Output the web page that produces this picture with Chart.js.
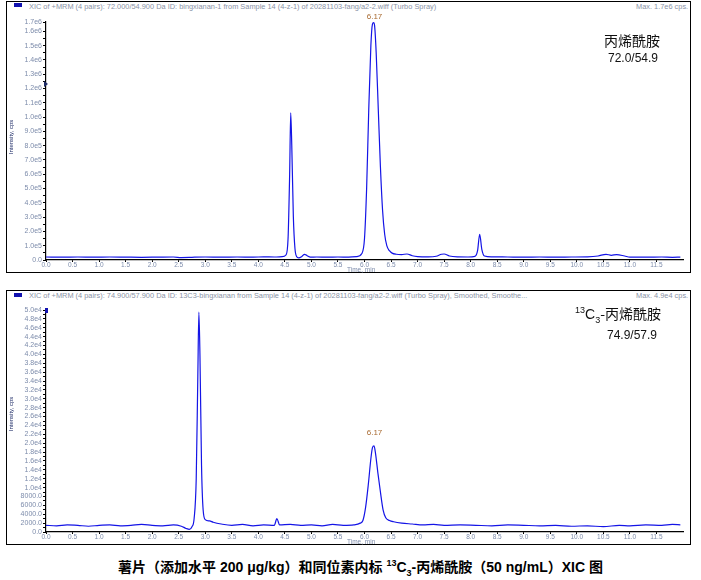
<!DOCTYPE html>
<html>
<head>
<meta charset="utf-8">
<script src="https://cdn.jsdelivr.net/npm/chart.js@4.4.0/dist/chart.umd.min.js"></script>
<style>
body{margin:0;background:#fff;width:701px;height:580px;position:relative;overflow:hidden;font-family:"Liberation Sans",Arial,sans-serif}
.frame{position:absolute;left:6px;width:685px;border:1px solid #000;box-sizing:border-box}
canvas{position:absolute;left:7px}
.hdr{position:absolute;font-size:7.4px;color:#8a93a6;white-space:nowrap}
.mark{position:absolute;width:8px;height:4px;background:#1212b0}
.ytitle{position:absolute;font-size:6px;color:#1c2a66;white-space:nowrap;transform:rotate(-90deg);transform-origin:center}
.xtitle{position:absolute;font-size:6.5px;color:#7d8cab;white-space:nowrap}
.cn{position:absolute;font-family:"Noto Sans CJK SC",sans-serif;font-size:14px;color:#111;white-space:nowrap}
.num{position:absolute;font-size:12px;color:#111;white-space:nowrap}
.cap{position:absolute;left:10px;width:701px;top:556px;text-align:center;font-family:"Liberation Sans","Noto Sans CJK SC",sans-serif;font-weight:bold;font-size:14px;color:#000;white-space:nowrap}
</style>
</head>
<body>
<div class="frame" style="top:1px;height:272px"></div>
<div class="frame" style="top:290px;height:255px"></div>

<div class="mark" style="left:14px;top:3px"></div>
<div class="hdr" style="left:29px;top:2px">XIC of +MRM (4 pairs): 72.000/54.900 Da ID: bingxianan-1 from Sample 14 (4-z-1) of 20281103-fang/a2-2.wiff (Turbo Spray)</div>
<div class="hdr" style="left:636px;top:2px">Max. 1.7e6 cps.</div>
<div class="mark" style="left:14px;top:293px"></div>
<div class="hdr" style="left:29px;top:291px">XIC of +MRM (4 pairs): 74.900/57.900 Da ID: 13C3-bingxianan from Sample 14 (4-z-1) of 20281103-fang/a2-2.wiff (Turbo Spray), Smoothed, Smoothe...</div>
<div class="hdr" style="left:636px;top:291px">Max. 4.9e4 cps.</div>

<canvas id="c1" width="683" height="269" style="top:3px"></canvas>
<canvas id="c2" width="683" height="253" style="top:291px"></canvas>

<div style="position:absolute;left:44px;top:81px;width:0;height:0;border-top:3px solid transparent;border-bottom:3px solid transparent;border-left:4px solid #1c2a66"></div>
<div style="position:absolute;left:45px;top:308px;width:3px;height:5px;background:#1212b0"></div>

<div class="ytitle" style="left:-6px;top:134px">Intensity, cps</div>
<div class="ytitle" style="left:-6px;top:411px">Intensity, cps</div>
<div class="xtitle" style="left:347px;top:266px">Time, min</div>
<div class="xtitle" style="left:347px;top:538px">Time, min</div>

<div class="cn" style="left:604px;top:30px">丙烯酰胺</div>
<div class="num" style="left:608px;top:51px">72.0/54.9</div>
<div class="cn" style="left:575px;top:303px"><sup style="font-size:9px;font-family:'Liberation Sans'">13</sup><span style="font-family:'Liberation Sans'">C</span><sub style="font-size:9px;font-family:'Liberation Sans'">3</sub>-丙烯酰胺</div>
<div class="num" style="left:607px;top:328px">74.9/57.9</div>

<div class="cap">薯片（添加水平 200 μg/kg）和同位素内标 <sup style="font-size:9px">13</sup>C<sub style="font-size:9px">3</sub>-丙烯酰胺（50 ng/mL）XIC 图</div>

<script>
// 72.0/54.9 丙烯酰胺
var time1 = [0.0,0.3,0.6,0.9,1.2,1.5,1.8,2.1,2.4,2.55,2.7,2.8,3.0,3.3,3.6,3.9,4.1,4.3,4.45,4.52,4.56,4.59,4.61,4.63,4.66,4.69,4.72,4.76,4.82,4.87,4.92,4.98,5.1,5.3,5.5,5.7,5.85,5.95,6.0,6.04,6.08,6.12,6.15,6.17,6.19,6.22,6.26,6.3,6.34,6.38,6.42,6.47,6.52,6.6,6.7,6.8,6.9,7.0,7.2,7.35,7.45,7.5,7.6,7.75,7.95,8.08,8.13,8.17,8.21,8.26,8.4,8.7,9.0,9.3,9.6,9.9,10.2,10.4,10.55,10.65,10.75,10.9,11.0,11.3,11.6,11.8,11.95];
var int1  = [21000,20000,21000,20000,21000,20000,19000,20000,21000,17000,18000,20000,21000,20000,21000,20000,22000,21000,23000,35000,150000,600000,1030000,800000,300000,80000,25000,15000,25000,40000,30000,20000,21000,20000,21000,20000,23000,45000,150000,500000,1050000,1500000,1650000,1660000,1640000,1450000,1050000,650000,350000,180000,100000,65000,48000,40000,38000,42000,30000,24000,22000,26000,40000,42000,28000,22000,21000,25000,65000,180000,75000,28000,22000,21000,20000,21000,20000,21000,22000,28000,40000,33000,38000,28000,20000,20000,21000,19000,20000];

// 74.9/57.9 13C3-丙烯酰胺
var time2 = [0.0,0.2,0.4,0.6,0.8,1.0,1.2,1.4,1.6,1.8,2.0,2.2,2.4,2.55,2.64,2.7,2.75,2.79,2.83,2.86,2.88,2.9,2.93,2.96,3.0,3.08,3.15,3.3,3.5,3.7,3.9,4.1,4.3,4.35,4.4,4.6,4.8,5.0,5.2,5.4,5.6,5.8,5.92,5.97,6.02,6.07,6.12,6.15,6.18,6.21,6.25,6.3,6.35,6.4,6.47,6.55,6.7,6.9,7.1,7.3,7.5,7.8,8.1,8.4,8.7,9.0,9.3,9.6,9.9,10.2,10.5,10.8,11.0,11.3,11.6,11.8,11.95];
var int2  = [1500,1400,1600,1500,1300,1500,1600,1400,1500,1700,1500,1400,1600,1300,800,600,1200,3000,12000,35000,49500,40000,15000,5000,2800,2500,2200,1800,1500,1700,1400,1600,1500,3000,1600,1700,1500,1600,1400,1700,1500,1600,2000,2600,5500,10500,16500,19000,19400,17500,13500,9000,5000,3200,2600,2300,2000,1800,1600,1700,1500,1600,1500,1400,1600,1500,1400,1500,1300,1400,1200,1500,1400,1600,1500,1700,1600];

var xTickLabels = ['0.0','0.5','1.0','1.5','2.0','2.5','3.0','3.5','4.0','4.5','5.0','5.5','6.0','6.5','7.0','7.5','8.0','8.5','9.0','9.5','10.0','10.5','11.0','11.5'];

var tickColor = '#7d8cab';
var lineColor = '#1414e6';

function fmt1(v) {
  if (v >= 1e6) return (v / 1e6).toFixed(1) + 'e6';
  if (v >= 1e5) return (v / 1e5).toFixed(1) + 'e5';
  if (v == 0) return '0.0';
  return '';
}
function fmt2(v) {
  if (v >= 1e4) return (v / 1e4).toFixed(1) + 'e4';
  return v.toFixed(1);
}

var peakLabels = {
  id: 'peakLabels',
  afterDatasetsDraw(chart, args, opts) {
    var ctx = chart.ctx, x = chart.scales.x, y = chart.scales.y;
    ctx.save();
    ctx.font = '8px "Liberation Sans"';
    ctx.fillStyle = '#a86a30';
    ctx.textAlign = 'center';
    ctx.textBaseline = 'middle';
    opts.items.forEach(function (p) {
      var py = Math.max(y.getPixelForValue(p.v) - 13, 14);
      ctx.fillText(p.t, x.getPixelForValue(p.x) + 1, py);
    });
    ctx.restore();
  }
};

function makeChart(id, times, vals, ymax, step, labelEvery, fmt, peak) {
  var pts = times.map(function (t, i) { return {x: t, y: vals[i]}; });
  var canvas = document.getElementById(id);
  return new Chart(canvas, {
    type: 'line',
    data: {
      datasets: [{
        data: pts,
        borderColor: lineColor,
        borderWidth: 1.2,
        pointRadius: 0,
        cubicInterpolationMode: 'monotone'
      }]
    },
    options: {
      responsive: false,
      animation: false,
      layout: {padding: {top: 19, right: 7, left: 0, bottom: 0}},
      plugins: {legend: {display: false}, tooltip: {enabled: false}, peakLabels: {items: [peak]}},
      scales: {
        x: {
          type: 'linear', min: 0, max: 12,
          afterFit: function (s) { s.height = 12; },
          afterBuildTicks: function (s) {
            s.ticks = xTickLabels.map(function (l) { return {value: parseFloat(l)}; });
          },
          ticks: {
            autoSkip: false, maxRotation: 0, padding: -1, color: tickColor,
            font: {size: 6.5, family: 'Liberation Sans'},
            callback: function (v, i) { return xTickLabels[i]; }
          },
          grid: {drawOnChartArea: false, drawTicks: true, tickLength: 2, color: '#000'},
          border: {display: true, color: '#000', width: 1.2}
        },
        y: {
          type: 'linear', min: 0, max: ymax,
          afterFit: function (s) { s.width = 39; },
          afterBuildTicks: function (s) {
            var t = [];
            for (var v = 0; v < ymax - step / 2; v += step) t.push({value: v});
            t.push({value: ymax});
            s.ticks = t;
          },
          ticks: {
            autoSkip: false, padding: 1, color: tickColor,
            font: {size: 7, family: 'Liberation Sans'},
            callback: function (v, i, ticks) {
              if (i == ticks.length - 1) return fmt(Math.round(v / (step * labelEvery)) * step * labelEvery);
              if (Math.round(v / step) % labelEvery != 0) return '';
              return fmt(v);
            }
          },
          grid: {drawOnChartArea: false, drawTicks: true, tickLength: 3, color: '#000'},
          border: {display: true, color: '#000', width: 1.2}
        }
      }
    },
    plugins: [peakLabels]
  });
}

makeChart('c1', time1, int1, 1665000, 50000, 2, fmt1, {x: 6.17, v: 1660000, t: '6.17'});
makeChart('c2', time2, int2, 50000, 1000, 2, fmt2, {x: 6.17, v: 19400, t: '6.17'});
</script>
</body>
</html>
